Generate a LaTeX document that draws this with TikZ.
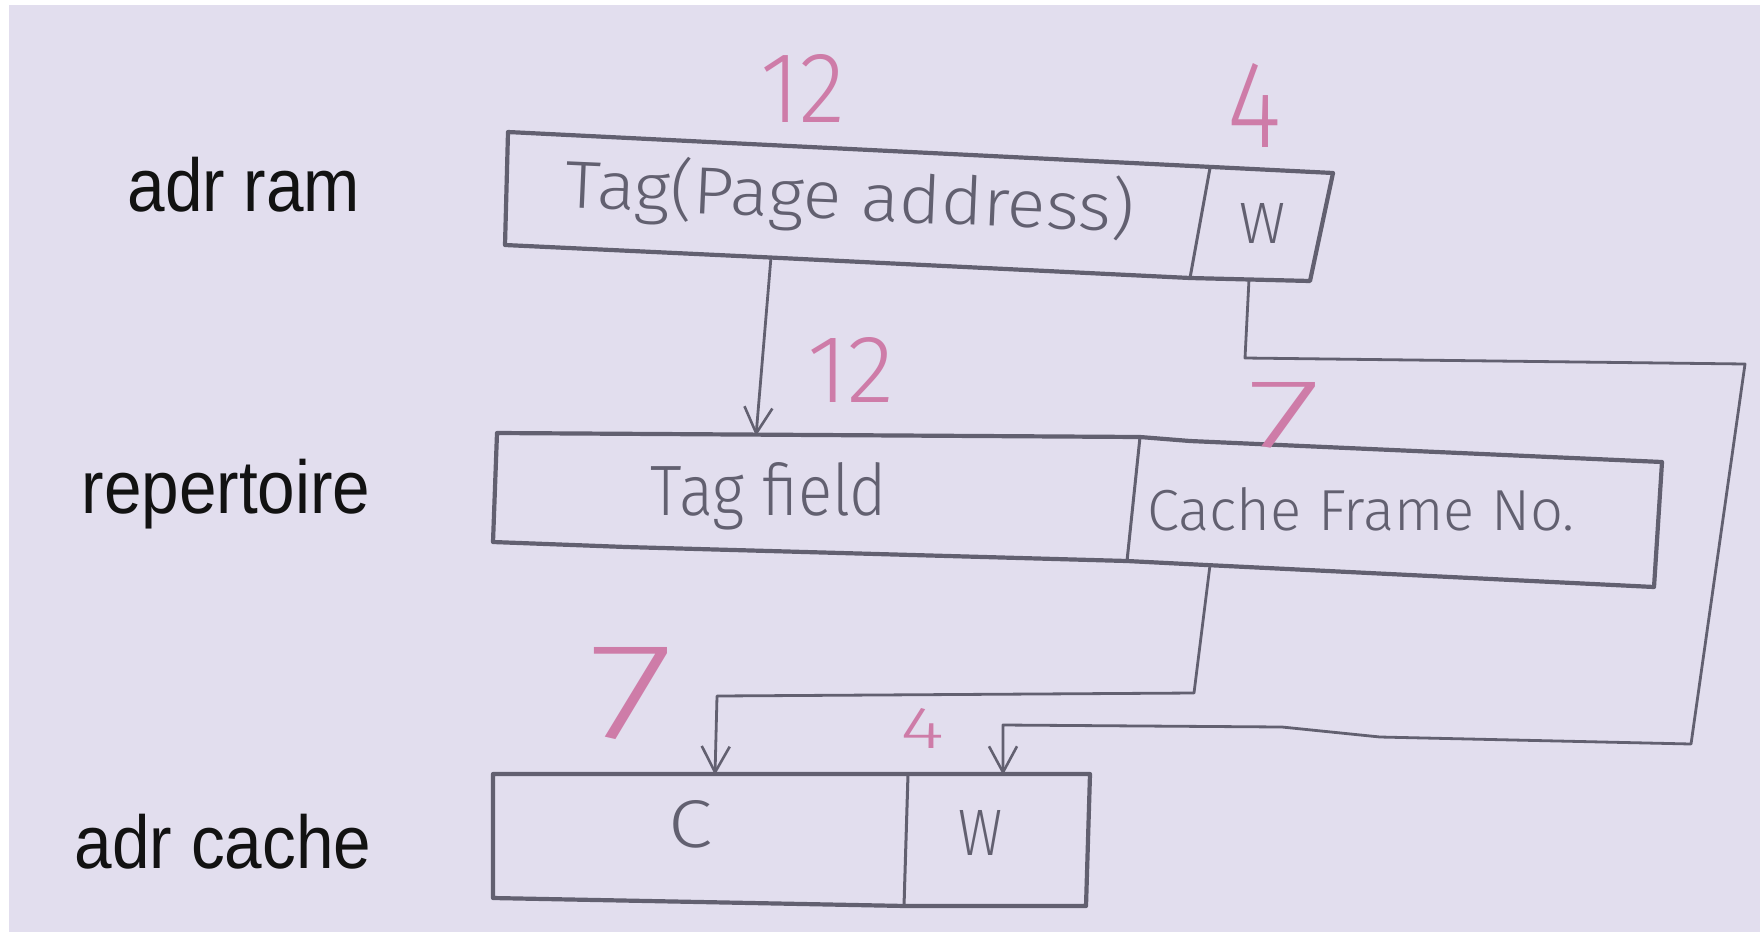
\documentclass[tikz,border=0pt]{standalone}
\usepackage{fontspec}
\setmainfont{Liberation Sans}
\newfontfamily\penfont{Fira Sans Light}
\usetikzlibrary{arrows.meta}

\definecolor{paper}{RGB}{226,222,238}
\definecolor{ink}{RGB}{98,96,112}
\definecolor{pen}{RGB}{206,124,168}
\definecolor{lbl}{RGB}{18,18,18}

% text squeezed into a given width and height (in pt)
\newcommand{\penfit}[3]{\resizebox{#1pt}{#2pt}{\penfont #3}}

\begin{document}
\begin{tikzpicture}[x=1pt,y=-1pt,
  frame/.style={draw=ink,line width=4.2pt,line join=round},
  divider/.style={draw=ink,line width=3pt},
  wire/.style={draw=ink,line width=2.8pt,line join=round},
  feed/.style={wire,-{Straight Barb[length=26pt,width=28pt,line width=2.6pt]}},
  field/.style={text=ink,inner sep=0pt,anchor=base},
  bits/.style={text=pen,inner sep=0pt,anchor=base},
  rowlabel/.style={text=lbl,inner sep=0pt,anchor=base,font=\fontsize{75}{75}\selectfont}]

% sheet
\fill[white] (0,0) rectangle (1760,932);
\fill[paper] (9,5) rectangle (1760,932);
\useasboundingbox (0,0) rectangle (1760,932);

% row names
\node[rowlabel] (lram) at (244,211) {\scalebox{0.9}[1]{adr ram}};
\node[rowlabel] (lrep) at (226,513) {\scalebox{0.9}[1]{repertoire}};
\node[rowlabel] (lcache) at (223,868) {\scalebox{0.9}[1]{adr cache}};

% RAM address: tag | word
\draw[frame] (508,132) -- (1333,173) -- (1310,281) -- (1190,278) -- (760,257) -- (505,245) -- cycle;
\draw[divider] (1210,168) -- (1190,278);
\node[field,rotate=-2.5] (ramtag) at (849,220) {\penfit{570}{56}{Tag(Page address)}};
\node[field] (ramw) at (1262,243) {\penfit{46}{40}{W}};
\node[bits] (b12a) at (803,122) {\penfit{85}{68}{12}};
\node[bits] (b4a) at (1254,147) {\penfit{54}{84}{4}};

% directory entry: tag field | cache frame number
\draw[frame] (497,433) -- (1140,437) -- (1190,441) -- (1662,462) -- (1654,587) -- (1206,565) -- (1127,561) -- (626,547) -- (493,542) -- cycle;
\draw[divider] (1140,437) -- (1127,561);
\node[field] (reptag) at (769,515) {\penfit{236}{53}{Tag field}};
\node[field] (repcf) at (1361,530) {\penfit{427}{43}{Cache Frame No.}};
\node[bits] (b12b) at (851,402) {\penfit{87}{65}{12}};
\node[bits] (b7a) at (1285,447) {\penfit{74}{65}{7}};

% cache address: C | W
\draw[frame] (493,774) -- (1090,774) -- (1086,906) -- (906,906) -- (493,898) -- cycle;
\draw[divider] (908,774) -- (904,906);
\node[field] (cacc) at (690,847) {\penfit{44}{47}{C}};
\node[field] (cacw) at (980,855) {\penfit{44}{45}{W}};
\node[bits] (b7b) at (632,738) {\penfit{86}{91}{7}};
\node[bits] (b4b) at (922,748) {\penfit{44}{40}{4}};

% connection points on the boxes
\coordinate (tagout) at (771,257);
\coordinate (tagin) at (756,436);
\coordinate (wout) at (1249,279);
\coordinate (win) at (1003,775);
\coordinate (cfout) at (1210,565);
\coordinate (cin) at (715,775);

% tag goes to the directory
\draw[feed] (tagout) -- (tagin);
% word bits go round to the cache address
\draw[feed] (wout) -- (1245,358) -- (1745,364) -- (1691,744) -- (1380,737) -- (1282,727) -- (1003,725) -- (win);
% frame number becomes C
\draw[feed] (cfout) -- (1194,693) -- (717,696) -- (cin);
\end{tikzpicture}
\end{document}
